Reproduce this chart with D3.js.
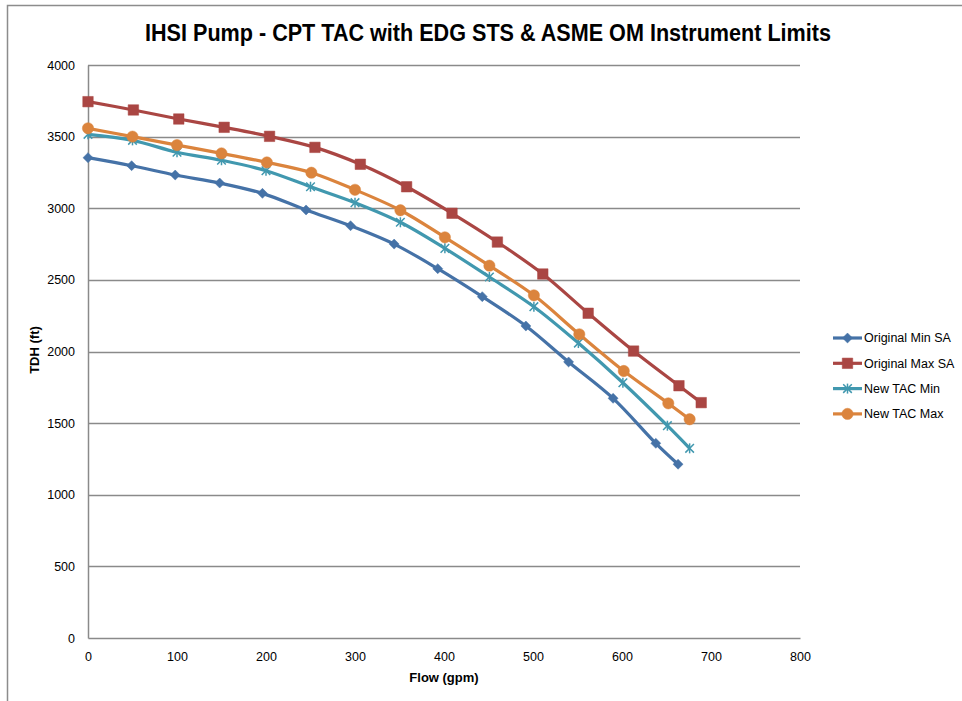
<!DOCTYPE html>
<html lang="en">
<head>
    <meta charset="UTF-8">
    <title>IHSI Pump - CPT TAC</title>
    <style>
        body { margin: 0; background: #fff; }
        svg text { font-family: "Liberation Sans", Arial, sans-serif; }
    </style>
</head>
<body>
    <div class="canvas"></div>
    <script src="https://cdnjs.cloudflare.com/ajax/libs/d3/7.8.2/d3.min.js"></script>
    <script>
        // values
        const seriesNames = ["Original Min SA", "Original Max SA", "New TAC Min", "New TAC Max"];

        const origMinFlow = [0, 49, 98, 148, 196, 245, 295, 344, 393, 443, 492, 540, 590, 638, 663];
        const origMinTdh = [3353, 3297, 3232, 3176, 3104, 2988, 2878, 2750, 2578, 2383, 2178, 1927, 1673, 1359, 1213];

        const origMaxFlow = [0, 51, 102, 153, 204, 255, 306, 358, 409, 460, 511, 562, 613, 664, 689];
        const origMaxTdh = [3744, 3686, 3623, 3565, 3502, 3425, 3307, 3150, 2965, 2764, 2541, 2267, 2003, 1761, 1643];

        const tacMinFlow = [0, 50, 100, 150, 200, 250, 300, 351, 401, 451, 501, 551, 601, 651, 676];
        const tacMinTdh = [3516, 3474, 3391, 3335, 3262, 3150, 3039, 2902, 2720, 2520, 2313, 2059, 1782, 1482, 1324];

        const tacMaxFlow = [0, 50, 100, 150, 201, 251, 300, 351, 401, 451, 501, 552, 602, 652, 676];
        const tacMaxTdh = [3558, 3500, 3441, 3383, 3320, 3248, 3129, 2986, 2797, 2599, 2392, 2120, 1864, 1638, 1527];

        const xTicks = [0, 100, 200, 300, 400, 500, 600, 700, 800];
        const yTicks = [0, 500, 1000, 1500, 2000, 2500, 3000, 3500, 4000];

        const colors = ["#4572A7", "#AA4643", "#4198AF", "#DB843D"];
        const symbols = [d3.symbolDiamond2, d3.symbolSquare, d3.symbolTimes, d3.symbolCircle];
        const symSizes = [64, 110, 50, 100];

        const series = [
            { flow: origMinFlow, tdh: origMinTdh },
            { flow: origMaxFlow, tdh: origMaxTdh },
            { flow: tacMinFlow, tdh: tacMinTdh },
            { flow: tacMaxFlow, tdh: tacMaxTdh }
        ].map((s, i) => ({
            name: seriesNames[i],
            color: colors[i],
            symbol: symbols[i],
            size: symSizes[i],
            points: s.flow.map((f, j) => ({ x: f, y: s.tdh[j] }))
        }));

        const width = 962;
        const height = 701;
        const plot = { left: 88, right: 800, top: 65, bottom: 638 };

        const svg = d3.select(".canvas").append("svg")
            .attr("width", width)
            .attr("height", height);

        // outer chart border
        svg.append("rect")
            .attr("x", 7.5).attr("y", 5.5)
            .attr("width", 1000).attr("height", 1000)
            .attr("fill", "white")
            .attr("stroke", "#8c8c8c")
            .attr("stroke-width", 1.5);

        const x = d3.scaleLinear().domain([0, 800]).range([plot.left, plot.right]);
        const y = d3.scaleLinear().domain([0, 4000]).range([plot.bottom, plot.top]);

        // gridlines
        svg.append("g")
            .selectAll("line")
            .data(yTicks.filter(t => t > 0))
            .enter().append("line")
            .attr("x1", plot.left).attr("x2", plot.right)
            .attr("y1", d => Math.round(y(d)) + 0.5).attr("y2", d => Math.round(y(d)) + 0.5)
            .attr("stroke", "#8a8a8a")
            .attr("stroke-width", 1.3);

        // axes
        const xAxis = d3.axisBottom(x).tickValues(xTicks).tickFormat(d3.format("d")).tickSize(0).tickPadding(14);
        const yAxis = d3.axisLeft(y).tickValues(yTicks).tickFormat(d3.format("d")).tickSize(0).tickPadding(13);

        const xAxisGroup = svg.append("g")
            .attr("transform", `translate(0, ${plot.bottom})`)
            .call(xAxis);
        const yAxisGroup = svg.append("g")
            .attr("transform", `translate(${plot.left}, 0)`)
            .call(yAxis);

        [xAxisGroup, yAxisGroup].forEach(g => {
            g.select(".domain").attr("stroke", "#8a8a8a").attr("stroke-width", 1.5);
            g.selectAll("text").attr("font-size", "12.5px").attr("fill", "#000")
                .style("font-family", '"Liberation Sans", Arial, sans-serif');
        });

        // lines
        const line = d3.line()
            .x(d => x(d.x))
            .y(d => y(d.y))
            .curve(d3.curveCatmullRom.alpha(0.5));

        series.forEach(s => {
            svg.append("path")
                .datum(s.points)
                .attr("fill", "none")
                .attr("stroke", s.color)
                .attr("stroke-width", 3.2)
                .attr("stroke-linejoin", "round")
                .attr("d", line);
        });

        // markers
        series.forEach(s => {
            const sym = d3.symbol().type(s.symbol).size(s.size);
            svg.append("g")
                .selectAll("path")
                .data(s.points)
                .enter().append("path")
                .attr("transform", d => `translate(${x(d.x)}, ${y(d.y)})`)
                .attr("d", sym)
                .attr("fill", s.symbol === d3.symbolTimes ? "none" : s.color)
                .attr("stroke", s.color)
                .attr("stroke-width", s.symbol === d3.symbolTimes ? 1.5 : 0.5);
            if (s.symbol === d3.symbolTimes) {
                // asterisk: add vertical bar
                svg.append("g")
                    .selectAll("line")
                    .data(s.points)
                    .enter().append("line")
                    .attr("x1", d => x(d.x)).attr("x2", d => x(d.x))
                    .attr("y1", d => y(d.y) - 5).attr("y2", d => y(d.y) + 5)
                    .attr("stroke", s.color)
                    .attr("stroke-width", 1.5);
            }
        });

        // title
        svg.append("text")
            .attr("x", 488).attr("y", 41)
            .attr("text-anchor", "middle")
            .attr("font-size", "23px")
            .attr("font-weight", "bold")
            .attr("textLength", 686)
            .attr("lengthAdjust", "spacingAndGlyphs")
            .text("IHSI Pump - CPT TAC with EDG STS & ASME OM Instrument Limits");

        // axis titles
        svg.append("text")
            .attr("x", 444).attr("y", 682)
            .attr("text-anchor", "middle")
            .attr("font-size", "13px")
            .attr("font-weight", "bold")
            .text("Flow (gpm)");

        svg.append("text")
            .attr("transform", "translate(39, 350) rotate(-90)")
            .attr("text-anchor", "middle")
            .attr("font-size", "13px")
            .attr("font-weight", "bold")
            .text("TDH (ft)");

        // legend
        const legend = svg.append("g").attr("transform", "translate(833, 338)");
        series.forEach((s, i) => {
            const row = legend.append("g").attr("transform", `translate(0, ${i * 25.3})`);
            row.append("line")
                .attr("x1", 0).attr("x2", 29)
                .attr("stroke", s.color).attr("stroke-width", 3.2);
            row.append("path")
                .attr("transform", "translate(14.5, 0)")
                .attr("d", d3.symbol().type(s.symbol).size(s.size)())
                .attr("fill", s.symbol === d3.symbolTimes ? "none" : s.color)
                .attr("stroke", s.color)
                .attr("stroke-width", s.symbol === d3.symbolTimes ? 1.5 : 0.5);
            if (s.symbol === d3.symbolTimes) {
                row.append("line")
                    .attr("x1", 14.5).attr("x2", 14.5).attr("y1", -5).attr("y2", 5)
                    .attr("stroke", s.color).attr("stroke-width", 1.5);
            }
            row.append("text")
                .attr("x", 31).attr("y", 0)
                .attr("dy", "0.35em")
                .attr("font-size", "12.5px")
                .text(s.name);
        });
    </script>
</body>
</html>
